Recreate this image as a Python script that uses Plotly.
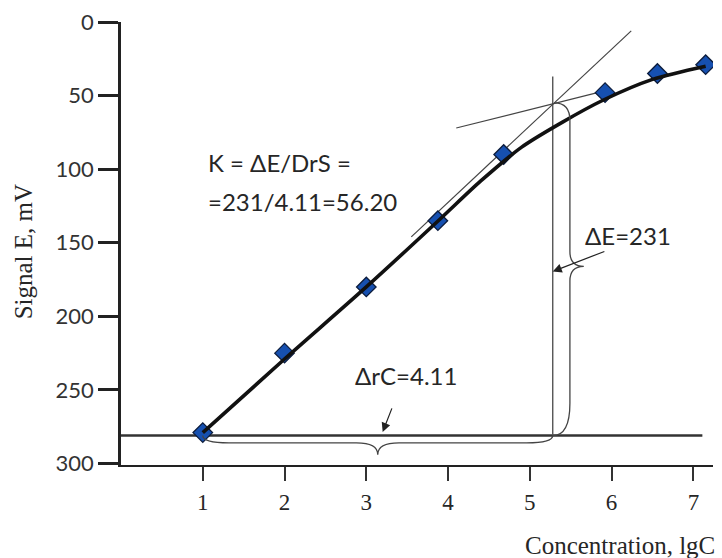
import plotly.graph_objects as go

# ---- data ----
conc = [1.0, 2.0, 3.0, 3.875, 4.68, 5.92, 6.56, 7.15]
signal = [279, 225, 180, 135, 90, 48, 35, 29]

# smooth calibration curve drawn through the picture
curve_x = [1.0, 2.0, 3.0, 3.9, 4.4, 4.9, 5.4, 5.9, 6.5, 7.15]
curve_E = [279, 229, 180, 134, 108, 85, 68, 53, 39, 30]

# tangent lines
steep_x = [3.55, 6.24]
steep_E = [146, 6]
shallow_x = [4.10, 5.90]
shallow_E = [72, 47]

# construction values
baseline_E = 281
baseline_x = [0.0, 7.11]
vline_x = 5.28
vline_E = [281, 37]

y_ticks = [0, 50, 100, 150, 200, 250, 300]
x_ticks = [1, 2, 3, 4, 5, 6, 7]

SANS = "Lato, 'Liberation Sans', sans-serif"
SERIF = "'Liberation Serif', 'Times New Roman', serif"
INK = "#262626"

fig = go.Figure()

# baseline and vertical line
fig.add_trace(go.Scatter(x=baseline_x, y=[baseline_E, baseline_E], mode="lines",
                         line=dict(color="#333333", width=2.4), hoverinfo="skip"))
fig.add_trace(go.Scatter(x=[vline_x, vline_x], y=vline_E, mode="lines",
                         line=dict(color="#555555", width=1.4), hoverinfo="skip"))
# tangents
fig.add_trace(go.Scatter(x=steep_x, y=steep_E, mode="lines",
                         line=dict(color="#444444", width=1.2), hoverinfo="skip"))
fig.add_trace(go.Scatter(x=shallow_x, y=shallow_E, mode="lines",
                         line=dict(color="#444444", width=1.2), hoverinfo="skip"))
# markers
fig.add_trace(go.Scatter(x=conc, y=signal, mode="markers",
                         marker=dict(symbol="diamond", size=15, color="#1650b0",
                                     line=dict(color="#0c1c3c", width=1.3)),
                         hoverinfo="skip"))
# thick calibration curve
fig.add_trace(go.Scatter(x=curve_x, y=curve_E, mode="lines",
                         line=dict(color="#111111", width=3.6, shape="spline",
                                   smoothing=0.8),
                         hoverinfo="skip"))

# ---- braces ----
# horizontal brace under the baseline
hx0, hx1 = conc[0], vline_x
hxm = (hx0 + hx1) / 2
hEa, hEt = 286, 294
r1, r2 = 0.32, 0.26
hpath = (f"M {hx0},{baseline_E} Q {hx0},{hEa} {hx0 + r1},{hEa} "
         f"L {hxm - r2},{hEa} Q {hxm},{hEa} {hxm},{hEt} "
         f"Q {hxm},{hEa} {hxm + r2},{hEa} L {hx1 - r1},{hEa} "
         f"Q {hx1},{hEa} {hx1},{baseline_E}")
# vertical brace right of the vertical line
vxs, vEtop = 5.30, 55
vxa, vxt = 5.49, 5.66
vEt = (vEtop + baseline_E) / 2 - 2
ra, rt, rb = 12, 10, 22
vpath = (f"M {vxs},{vEtop} Q {vxa},{vEtop} {vxa},{vEtop + ra} "
         f"L {vxa},{vEt - rt} Q {vxa},{vEt} {vxt},{vEt} "
         f"Q {vxa},{vEt} {vxa},{vEt + rt} L {vxa},{baseline_E - rb} "
         f"Q {vxa},{baseline_E} {vline_x},{baseline_E}")
shapes = [
    dict(type="path", path=hpath, xref="x", yref="y",
         line=dict(color="#444444", width=1.3)),
    dict(type="path", path=vpath, xref="x", yref="y",
         line=dict(color="#444444", width=1.3)),
]

annotations = [
    dict(x=1.035, y=95.5, xref="x", yref="y", text="K = ΔE/DrS =", showarrow=False,
         xanchor="left", yanchor="middle", font=dict(family=SANS, size=24, color=INK)),
    dict(x=1.035, y=122, xref="x", yref="y", text="=231/4.11=56.20", showarrow=False,
         xanchor="left", yanchor="middle", font=dict(family=SANS, size=24, color=INK)),
    dict(x=6.2, y=145, xref="x", yref="y", text="ΔE=231", showarrow=False,
         xanchor="center", yanchor="middle", font=dict(family=SANS, size=24, color=INK)),
    dict(x=3.48, y=240, xref="x", yref="y", text="ΔrC=4.11", showarrow=False,
         xanchor="center", yanchor="middle", font=dict(family=SANS, size=24, color=INK)),
    # arrows
    dict(x=vline_x, y=169.5, ax=5.93, ay=155.5, xref="x", yref="y", axref="x", ayref="y",
         text="", showarrow=True, arrowhead=2, arrowsize=1.5, arrowwidth=1.2,
         arrowcolor="#222222"),
    dict(x=3.20, y=278.5, ax=3.32, ay=261.5, xref="x", yref="y", axref="x", ayref="y",
         text="", showarrow=True, arrowhead=2, arrowsize=1.5, arrowwidth=1.2,
         arrowcolor="#222222"),
    # axis titles
    dict(x=1.0, y=0, xref="paper", yref="paper", text="Concentration, lgC",
         showarrow=False, xanchor="right", yanchor="middle", xshift=4, yshift=-80,
         font=dict(family=SERIF, size=25, color=INK)),
    dict(x=0, y=0.48, xref="paper", yref="paper", text="Signal E, mV", textangle=-90,
         showarrow=False, xanchor="center", yanchor="middle", xshift=-98,
         font=dict(family=SERIF, size=25, color=INK)),
]

fig.update_layout(
    width=722, height=558,
    margin=dict(l=121, r=9, t=22, b=93),
    paper_bgcolor="white", plot_bgcolor="white",
    showlegend=False, hovermode=False,
    shapes=shapes, annotations=annotations,
    xaxis=dict(range=[0, 7.24], tickvals=x_ticks, ticktext=[str(v) for v in x_ticks],
               showgrid=False, zeroline=False, showline=True, linecolor="#222222",
               linewidth=2, ticks="outside", ticklen=14, tickwidth=1.5,
               ticklabelstandoff=1,
               tickcolor="#333333", tickfont=dict(family=SERIF, size=23, color=INK)),
    yaxis=dict(range=[301, 0], tickvals=y_ticks, ticktext=[str(v) for v in y_ticks],
               showgrid=False, zeroline=False, showline=True, linecolor="#222222",
               linewidth=2.5, ticks="outside", ticklen=20, tickwidth=3,
               tickcolor="#222222", tickfont=dict(family=SANS, size=22, color="#333333")),
)

fig.write_html("out.html", config={"displayModeBar": False},
               post_script="document.body.style.margin='0px';")
